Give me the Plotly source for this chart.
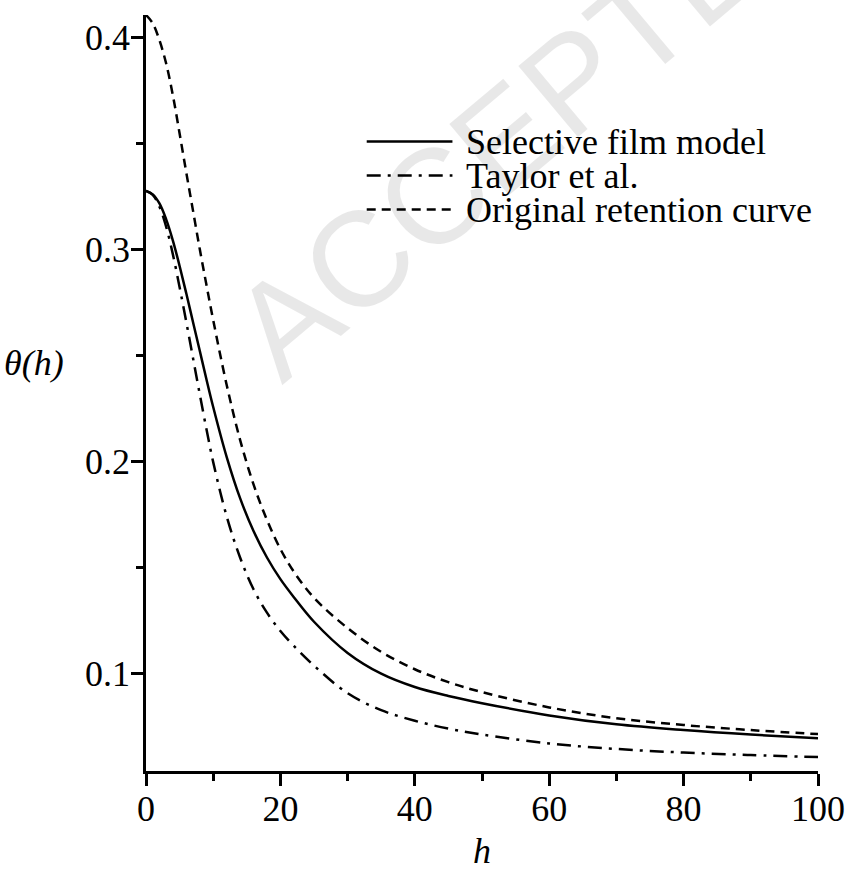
import plotly.graph_objects as go

# Matric head h and volumetric water content theta(h) for the three curves
h = [0, 1, 2, 3, 4, 5, 6, 7, 8, 9, 10, 12, 14, 16, 18, 20, 22, 25, 30, 35,
     40, 45, 50, 60, 70, 80, 90, 100]

theta_film = [0.3274, 0.3258, 0.3215, 0.3140, 0.3040, 0.2920, 0.2790, 0.2655,
              0.2520, 0.2385, 0.2255, 0.2020, 0.1825, 0.1670, 0.1545, 0.1443,
              0.1358, 0.1242, 0.1095, 0.0997, 0.0934, 0.0892, 0.0858, 0.0800,
              0.0758, 0.0731, 0.0710, 0.0693]

theta_taylor = [0.3274, 0.3255, 0.3200, 0.3105, 0.2975, 0.2820, 0.2655, 0.2485,
                0.2315, 0.2150, 0.1995, 0.1740, 0.1545, 0.1395, 0.1285, 0.1198,
                0.1128, 0.1035, 0.0905, 0.0825, 0.0775, 0.0738, 0.0710, 0.0668,
                0.0642, 0.0625, 0.0613, 0.0604]

theta_original = [0.4104, 0.4065, 0.3985, 0.3875, 0.3725, 0.3545, 0.3360, 0.3180,
                  0.3000, 0.2830, 0.2665, 0.2360, 0.2100, 0.1890, 0.1722, 0.1585,
                  0.1478, 0.1355, 0.1212, 0.1100, 0.1018, 0.0957, 0.0910, 0.0838,
                  0.0787, 0.0755, 0.0731, 0.0712]

series_names = ["Selective film model", "Taylor et al.", "Original retention curve"]
series_dash = ["solid", "14px,7px,3px,7px", "9px,6px"]

x_ticks = [0, 20, 40, 60, 80, 100]
y_ticks = [0.1, 0.2, 0.3, 0.4]
y_tick_text = ["0.1", "0.2", "0.3", "0.4"]

W, H = 857, 877
M_L, M_R, M_T, M_B = 146, 29, 15, 106
PW, PH = W - M_L - M_R, H - M_T - M_B

SERIF = "Liberation Serif"
FS = 36


def px_x(px):
    return (px - M_L) / PW


def px_y(py):
    return (H - M_B - py) / PH


fig = go.Figure()
for name, ys, dash in zip(series_names, [theta_film, theta_taylor, theta_original], series_dash):
    fig.add_trace(go.Scatter(
        x=h, y=ys, mode="lines", name=name, showlegend=False,
        line=dict(color="black", width=2.5, dash=dash, shape="spline", smoothing=1.0),
    ))

shapes = []
annotations = []

# faint diagonal watermark (semi-transparent so black marks stay black)
annotations.append(dict(
    x=px_x(901), y=px_y(-186), xref="paper", yref="paper", xanchor="center", yanchor="middle",
    text="ACCEPTED MANUSCRIPT", textangle=-40, showarrow=False,
    font=dict(family="Liberation Sans", size=135, color="rgba(0,0,0,0.09)"),
))

# legend: line samples and labels
rows_y = [141.5, 175.5, 209.5]
for name, dash, ry in zip(series_names, series_dash, rows_y):
    shapes.append(dict(
        type="line", xref="paper", yref="paper",
        x0=px_x(370), x1=px_x(457), y0=px_y(ry), y1=px_y(ry),
        line=dict(color="black", width=2.5, dash=dash),
    ))
    annotations.append(dict(
        x=px_x(469), y=px_y(ry), xref="paper", yref="paper", xanchor="left", yanchor="middle",
        text=name, showarrow=False, font=dict(family=SERIF, size=FS, color="black"),
    ))

# axis titles
annotations.append(dict(
    x=px_x(32), y=px_y(363), xref="paper", yref="paper", xanchor="center", yanchor="middle",
    text="<i>θ(h)</i>", showarrow=False, font=dict(family=SERIF, size=FS, color="black"),
))
annotations.append(dict(
    x=px_x(487), y=px_y(851), xref="paper", yref="paper", xanchor="center", yanchor="middle",
    text="<i>h</i>", showarrow=False, font=dict(family=SERIF, size=FS, color="black"),
))

axis_common = dict(
    showgrid=False, zeroline=False, showline=True, linecolor="black", linewidth=2.5,
    ticks="outside", ticklen=12, tickwidth=2.5, tickcolor="black",
    tickfont=dict(family=SERIF, size=FS, color="black"), mirror=False,
)

fig.update_layout(
    width=W, height=H,
    margin=dict(l=M_L, r=M_R, t=M_T, b=M_B, pad=0),
    paper_bgcolor="white", plot_bgcolor="white",
    font=dict(family=SERIF),
    showlegend=False,
    xaxis=dict(range=[0, 100], tickvals=x_ticks, ticklabelstandoff=-8, **axis_common,
               minor=dict(dtick=10, tick0=0, ticks="outside", ticklen=7,
                          tickwidth=2.5, tickcolor="black")),
    yaxis=dict(range=[0.0538, 0.4104], tickvals=y_ticks, ticktext=y_tick_text,
               ticklabelstandoff=-6, **axis_common,
               minor=dict(dtick=0.05, tick0=0, ticks="outside", ticklen=7,
                          tickwidth=2.5, tickcolor="black")),
    shapes=shapes,
    annotations=annotations,
)

fig.write_html("out.html")
